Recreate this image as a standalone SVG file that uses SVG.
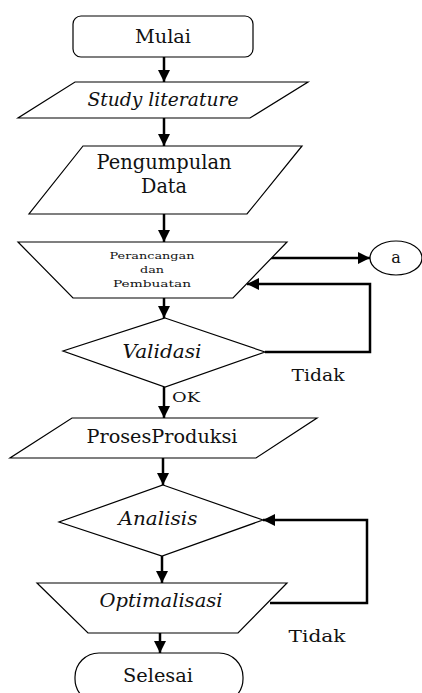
<svg xmlns="http://www.w3.org/2000/svg" width="422" height="693" viewBox="0 0 422 693">
<defs>
<marker id="ah" markerUnits="userSpaceOnUse" markerWidth="12" markerHeight="12" viewBox="0 0 12 12" refX="12" refY="6" orient="auto">
<path d="M0,0 L12,6 L0,12 z" fill="#000"/>
</marker>
<style>
.s{fill:#fff;stroke:#000;stroke-width:1.2}
.t{font-family:'DejaVu Serif',serif;fill:#111;text-anchor:middle}
.i{font-style:italic}
.c{fill:none;stroke:#000;stroke-width:2.5}
.a{marker-end:url(#ah)}
</style>
</defs>
<rect width="422" height="693" fill="#fff"/>
<g id="connectors">
<line class="c a" x1="164" y1="57" x2="164" y2="82"/>
<line class="c a" x1="164" y1="118" x2="164" y2="146"/>
<line class="c a" x1="164" y1="214" x2="164" y2="242"/>
<line class="c a" x1="270" y1="258" x2="370" y2="258"/>
<line class="c a" x1="164" y1="298" x2="164" y2="318"/>
<polyline class="c a" points="265,352 370,352 370,284 247,284"/>
<line class="c a" x1="164" y1="387" x2="164" y2="418"/>
<line class="c a" x1="163" y1="458" x2="163" y2="485"/>
<line class="c a" x1="162" y1="556" x2="162" y2="583"/>
<polyline class="c a" points="270,603 367,603 367,520 263,520"/>
<line class="c a" x1="160" y1="633" x2="160" y2="653"/>
</g>
<g id="mulai">
<rect class="s" x="73" y="16" width="180" height="41" rx="8" stroke-width="1.5"/>
<text class="t" x="163" y="43" font-size="18" textLength="56" lengthAdjust="spacingAndGlyphs">Mulai</text>
</g>
<g id="study">
<polygon class="s" points="75,82 308,82 250,118 18,118"/>
<text class="t i" x="163" y="106" font-size="18" textLength="151" lengthAdjust="spacingAndGlyphs">Study literature</text>
</g>
<g id="pengumpulan">
<polygon class="s" points="83,146 302,146 247,214 29,214"/>
<text class="t" x="164" y="169" font-size="21" textLength="135" lengthAdjust="spacingAndGlyphs">Pengumpulan</text>
<text class="t" x="164" y="193" font-size="21" textLength="46" lengthAdjust="spacingAndGlyphs">Data</text>
</g>
<g id="perancangan">
<polygon class="s" points="18,242 287,242 233,298 73,298"/>
<text class="t" x="152" y="259" font-size="10" textLength="85" lengthAdjust="spacingAndGlyphs">Perancangan</text>
<text class="t" x="152" y="273" font-size="10" textLength="24" lengthAdjust="spacingAndGlyphs">dan</text>
<text class="t" x="152" y="287" font-size="10" textLength="78" lengthAdjust="spacingAndGlyphs">Pembuatan</text>
</g>
<g id="connector-a">
<ellipse class="s" cx="396" cy="258" rx="26" ry="17"/>
<text class="t" x="396" y="263" font-size="16">a</text>
</g>
<g id="validasi">
<polygon class="s" points="165,318 265,352 165,387 63,351"/>
<text class="t i" x="162" y="358" font-size="19" textLength="79" lengthAdjust="spacingAndGlyphs">Validasi</text>
</g>
<text class="t" x="318" y="381" font-size="17" textLength="53" lengthAdjust="spacingAndGlyphs">Tidak</text>
<text class="t" x="186" y="402" font-size="13" textLength="28" lengthAdjust="spacingAndGlyphs">OK</text>
<g id="proses">
<polygon class="s" points="72,418 317,418 256,458 10,458"/>
<text class="t" x="162" y="443" font-size="19" textLength="151" lengthAdjust="spacingAndGlyphs">ProsesProduksi</text>
</g>
<g id="analisis">
<polygon class="s" points="163,485 263,520 162,556 59,522"/>
<text class="t i" x="158" y="525" font-size="19" textLength="79" lengthAdjust="spacingAndGlyphs">Analisis</text>
</g>
<g id="optimalisasi">
<polygon class="s" points="37,583 287,583 238,633 88,633"/>
<text class="t i" x="161" y="607" font-size="19" textLength="123" lengthAdjust="spacingAndGlyphs">Optimalisasi</text>
</g>
<text class="t" x="317" y="642" font-size="17" textLength="57" lengthAdjust="spacingAndGlyphs">Tidak</text>
<g id="selesai">
<rect class="s" x="75" y="653" width="168" height="50" rx="24"/>
<text class="t" x="158" y="682" font-size="18" textLength="70" lengthAdjust="spacingAndGlyphs">Selesai</text>
</g>
</svg>
